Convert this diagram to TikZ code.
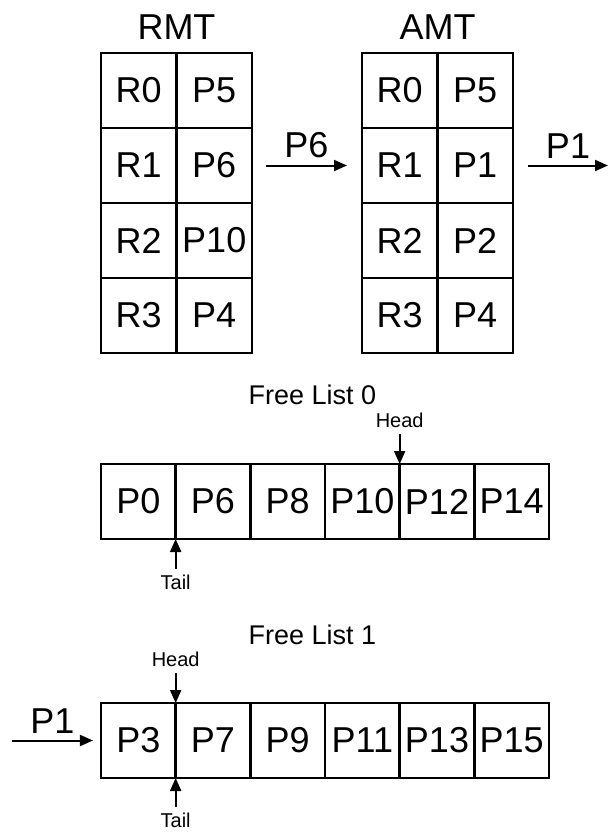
\documentclass[tikz,border=0pt]{standalone}
\usepackage{fontspec}
\setmainfont{Liberation Sans}
\usepackage{tikz}
\usetikzlibrary{arrows.meta, positioning}
\tikzstyle{cell} = [rectangle, draw, line width=2.4pt,
  outer sep=0pt, inner sep=2pt,
  minimum width=75.5pt, minimum height=75pt,
  font=\fontsize{36}{40}\selectfont]
\tikzstyle{slot} = [cell, minimum width=74.67pt]
\tikzstyle{title} = [inner sep=2pt, font=\fontsize{36}{40}\selectfont]
\tikzstyle{listname} = [inner sep=2pt, font=\fontsize{27}{30}\selectfont]
\tikzstyle{tag} = [inner sep=6pt, font=\fontsize{20}{24}\selectfont]
\tikzstyle{arrow} = [-{Triangle[length=13pt,width=11pt]}, line width=2pt]
\tikzstyle{arrowlabel} = [above, inner sep=7.5pt, outer sep=0pt,
  font=\fontsize{36}{40}\selectfont]

\begin{document}
\begin{tikzpicture}[x=1pt, y=-1pt]
  \useasboundingbox (0,0) rectangle (610,836);

  % RMT
  \node[cell] (rmtreg0) at (138.75,90.5) {R0};
  \node[cell, right=0pt of rmtreg0] (rmtphy0) {P5};
  \node[cell, below=0pt of rmtreg0] (rmtreg1) {R1};
  \node[cell, right=0pt of rmtreg1] (rmtphy1) {P6};
  \node[cell, below=0pt of rmtreg1] (rmtreg2) {R2};
  \node[cell, right=0pt of rmtreg2] (rmtphy2) {P10};
  \node[cell, below=0pt of rmtreg2] (rmtreg3) {R3};
  \node[cell, right=0pt of rmtreg3] (rmtphy3) {P4};
  \node[title, above=11pt of rmtreg0.north east] (rmtname) {RMT};

  % AMT
  \node[cell] (amtreg0) at (399.75,90.5) {R0};
  \node[cell, right=0pt of amtreg0] (amtphy0) {P5};
  \node[cell, below=0pt of amtreg0] (amtreg1) {R1};
  \node[cell, right=0pt of amtreg1] (amtphy1) {P1};
  \node[cell, below=0pt of amtreg1] (amtreg2) {R2};
  \node[cell, right=0pt of amtreg2] (amtphy2) {P2};
  \node[cell, below=0pt of amtreg2] (amtreg3) {R3};
  \node[cell, right=0pt of amtreg3] (amtphy3) {P4};
  \node[title, above=11pt of amtreg0.north east] (amtname) {AMT};

  \coordinate (amtout) at (608,165.5);
  \draw[arrow] ([xshift=14pt]rmtphy1.east) -- node[arrowlabel] {P6} ([xshift=-15pt]amtreg1.west);
  \draw[arrow] ([xshift=15pt]amtphy1.east) -- node[arrowlabel] {P1} (amtout);

  % Free List 0
  \node[listname] (fl0name) at (312.5,395) {Free List 0};
  \node[slot] (fl0s0) at (138.33,501.5) {P0};
  \node[slot, right=0pt of fl0s0] (fl0s1) {P6};
  \node[slot, right=0pt of fl0s1] (fl0s2) {P8};
  \node[slot, right=0pt of fl0s2] (fl0s3) {P10};
  \node[slot, right=0pt of fl0s3] (fl0s4) {P12};
  \node[slot, right=0pt of fl0s4] (fl0s5) {P14};
  \node[tag, above=30pt of fl0s4.north west] (head0) {Head};
  \node[tag, below=30pt of fl0s1.south west] (tail0) {Tail};
  \draw[arrow] (head0) -- (fl0s4.north west);
  \draw[arrow] (tail0) -- (fl0s1.south west);

  % Free List 1
  \node[listname] (fl1name) at (312.5,635) {Free List 1};
  \node[slot] (fl1s0) at (138.33,740.5) {P3};
  \node[slot, right=0pt of fl1s0] (fl1s1) {P7};
  \node[slot, right=0pt of fl1s1] (fl1s2) {P9};
  \node[slot, right=0pt of fl1s2] (fl1s3) {P11};
  \node[slot, right=0pt of fl1s3] (fl1s4) {P13};
  \node[slot, right=0pt of fl1s4] (fl1s5) {P15};
  \node[tag, above=30pt of fl1s1.north west] (head1) {Head};
  \node[tag, below=29pt of fl1s1.south west] (tail1) {Tail};
  \draw[arrow] (head1) -- (fl1s1.north west);
  \draw[arrow] (tail1) -- (fl1s1.south west);

  \coordinate (listin) at (12,740.5);
  \draw[arrow] (listin) -- node[arrowlabel] {P1} ([xshift=-8pt]fl1s0.west);

\end{tikzpicture}
\end{document}
